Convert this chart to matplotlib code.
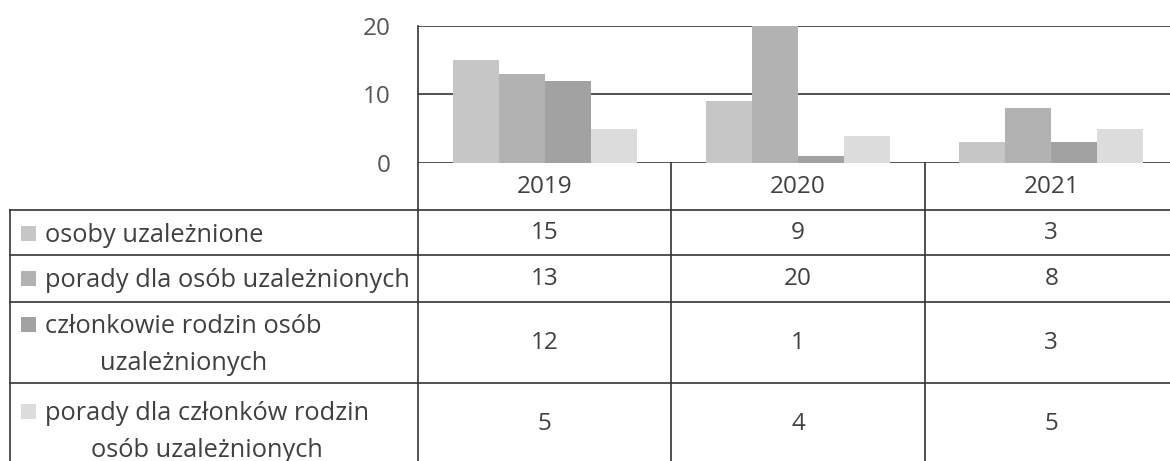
import numpy as np
import matplotlib.pyplot as plt
from matplotlib.patches import Rectangle

years = ["2019", "2020", "2021"]
series_names = [
    "osoby uzależnione",
    "porady dla osób uzależnionych",
    "członkowie rodzin osób\nuzależnionych",
    "porady dla członków rodzin\nosób uzależnionych",
]
osoby = [15, 9, 3]
porady_osoby = [13, 20, 8]
rodziny = [12, 1, 3]
porady_rodziny = [5, 4, 5]
values = [osoby, porady_osoby, rodziny, porady_rodziny]
yticks = [0, 10, 20]

colors = ["#c6c6c6", "#b2b2b2", "#a2a2a2", "#dcdcdc"]
text_color = "#404040"
line_color = "#333333"
plt.rcParams["font.family"] = ["Open Sans", "DejaVu Sans"]
fs_num = 17.5
fs_lab = 18.3

W, H = 1170, 461
fig = plt.figure(figsize=(W / 100, H / 100), dpi=100)

# pixel layout
plot_left, plot_right = 418, 1178
zero_y, top_y = 163, 26
row_lines = [210, 255, 302, 383, 464]
# baselines of each text line in the label column
baselines = [[242], [287], [333, 370], [420, 457]]
tab_left = 10
col_w = (plot_right - plot_left) / len(years)

# bar chart
ax = fig.add_axes([plot_left / W, 1 - zero_y / H,
                   (plot_right - plot_left) / W, (zero_y - top_y) / H])
x = np.arange(len(years))
w = 46 / col_w
for i, (vals, c) in enumerate(zip(values, colors)):
    ax.bar(x + (i - 1.5) * w, vals, width=w, color=c, zorder=3)
ax.set_xlim(-0.5, len(years) - 0.5)
ax.set_ylim(0, 20)
for v in yticks:
    ax.axhline(v, color=line_color, lw=1.2, zorder=1)
for s in ax.spines.values():
    s.set_visible(False)
ax.set_xticks([])
ax.set_yticks(yticks)
ax.tick_params(axis="y", length=0, pad=20, labelsize=fs_num, labelcolor="#555555")

# table drawn in pixel coordinates
tab = fig.add_axes([0, 0, 1, 1])
tab.set_xlim(0, W)
tab.set_ylim(H, 0)
tab.axis("off")

tab.plot([plot_left, plot_left], [top_y, H + 5], color=line_color, lw=1.2)
tab.plot([tab_left, tab_left], [row_lines[0], H + 5], color=line_color, lw=1.2)
for j in range(1, len(years)):
    xx = plot_left + j * col_w
    tab.plot([xx, xx], [zero_y, H + 5], color=line_color, lw=1.2)
for yy in row_lines[:-1]:
    tab.plot([tab_left, W + 5], [yy, yy], color=line_color, lw=1.2)

centers = [plot_left + (j + 0.5) * col_w for j in range(len(years))]
for cx, yr in zip(centers, years):
    tab.text(cx, 187, yr, ha="center", va="center", fontsize=fs_num, color=text_color)

renderer = fig.canvas.get_renderer()
for i, name in enumerate(series_names):
    cy = (row_lines[i] + row_lines[i + 1]) / 2
    for j, cx in enumerate(centers):
        tab.text(cx, cy, str(values[i][j]), ha="center", va="center",
                 fontsize=fs_num, color=text_color)
    lines = name.split("\n")
    b0 = baselines[i][0]
    tab.add_patch(Rectangle((21, b0 - 16), 15, 15, color=colors[i], lw=0))
    t0 = tab.text(45, b0, lines[0], ha="left", va="baseline",
                  fontsize=fs_lab, color=text_color)
    if len(lines) > 1:
        bb = t0.get_window_extent(renderer)
        mid = (bb.x0 + bb.x1) / 2
        tab.text(mid, baselines[i][1], lines[1], ha="center", va="baseline",
                 fontsize=fs_lab, color=text_color)

fig.savefig("out.png", dpi=100)
